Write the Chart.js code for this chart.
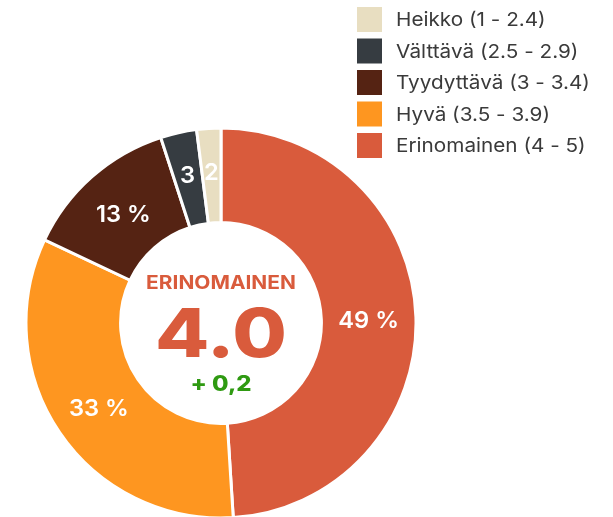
<!DOCTYPE html>
<html>
<head>
<meta charset="utf-8">
<script src="https://cdn.jsdelivr.net/npm/chart.js@4.4.0/dist/chart.umd.min.js"></script>
<style>
  html, body { margin: 0; padding: 0; background: #fff; }
</style>
</head>
<body>
<canvas id="grade-chart" width="613" height="517"></canvas>
<script>
// slices go clockwise from the top, the legend lists them the other way round
const labels = ['Erinomainen (4 - 5)', 'Hyvä (3.5 - 3.9)', 'Tyydyttävä (3 - 3.4)', 'Välttävä (2.5 - 2.9)', 'Heikko (1 - 2.4)'];
const shares = [49, 33, 13, 3, 2];
const colors = ['#d95b3c', '#fe9620', '#552313', '#363c41', '#e8dec1'];
const averageGrade = '4.0';
const averageName = 'ERINOMAINEN';
const averageChange = '+ 0,2';

const FONT = 'Inter, "Noto Sans", sans-serif';

// stretch text sideways a bit, the original font is wider than Inter
const wideText = (ctx, text, x, y, stretch) => {
  ctx.save();
  ctx.translate(x, y);
  ctx.scale(stretch, 1);
  ctx.fillText(text, 0, 0);
  ctx.restore();
};

const sliceLabels = {
  id: 'sliceLabels',
  afterDatasetsDraw(chart) {
    const {ctx} = chart;
    const meta = chart.getDatasetMeta(0);
    ctx.save();
    ctx.fillStyle = '#fff';
    ctx.font = `600 23px ${FONT}`;
    ctx.textAlign = 'center';
    ctx.textBaseline = 'middle';
    meta.data.forEach((arc, i) => {
      const {x, y, startAngle, endAngle, innerRadius, outerRadius} = arc.getProps(['x', 'y', 'startAngle', 'endAngle', 'innerRadius', 'outerRadius'], true);
      const mid = (startAngle + endAngle) / 2;
      const value = shares[i];
      const r = (innerRadius + outerRadius) / 2 + (value < 5 ? 6 : 0);
      const text = value < 5 ? `${value}` : `${value} %`;
      wideText(ctx, text, x + Math.cos(mid) * r, y + Math.sin(mid) * r + 3, 1.03);
    });
    ctx.restore();
  }
};

const centerText = {
  id: 'centerText',
  afterDraw(chart) {
    const {ctx} = chart;
    const arc = chart.getDatasetMeta(0).data[0];
    const cx = arc.x, cy = arc.y;
    ctx.save();
    ctx.textAlign = 'center';
    ctx.textBaseline = 'middle';
    ctx.fillStyle = colors[0];
    ctx.font = `700 19px ${FONT}`;
    wideText(ctx, averageName, cx, cy - 40, 1.1);
    ctx.font = `800 67px ${FONT}`;
    wideText(ctx, averageGrade, cx, cy + 14, 1.18);
    ctx.fillStyle = '#2f9a12';
    ctx.font = `800 21px ${FONT}`;
    wideText(ctx, averageChange, cx, cy + 62, 1.14);
    ctx.restore();
  }
};

const sideLegend = {
  id: 'sideLegend',
  afterDraw(chart) {
    const {ctx} = chart;
    ctx.save();
    ctx.font = `400 19px ${FONT}`;
    ctx.textBaseline = 'middle';
    ctx.textAlign = 'left';
    for (let row = 0; row < labels.length; row++) {
      const i = labels.length - 1 - row;
      const top = 7 + row * 31.5;
      ctx.fillStyle = colors[i];
      ctx.fillRect(357, top, 25, 25);
      ctx.fillStyle = '#3a3a3a';
      wideText(ctx, labels[i], 396, top + 13.5, 1.09);
    }
    ctx.restore();
  }
};

const gradeChart = new Chart(document.getElementById('grade-chart'), {
  type: 'doughnut',
  data: {
    labels: labels,
    datasets: [{
      data: shares,
      backgroundColor: colors,
      borderColor: '#fff',
      borderWidth: 3,
      hoverOffset: 0
    }]
  },
  options: {
    responsive: false,
    animation: false,
    radius: 195,
    cutout: '51.5%',
    layout: {
      padding: {top: 129, left: 27, right: 198, bottom: 0}
    },
    plugins: {
      legend: {display: false},
      tooltip: {enabled: false}
    }
  },
  plugins: [sliceLabels, centerText, sideLegend]
});
</script>
</body>
</html>
